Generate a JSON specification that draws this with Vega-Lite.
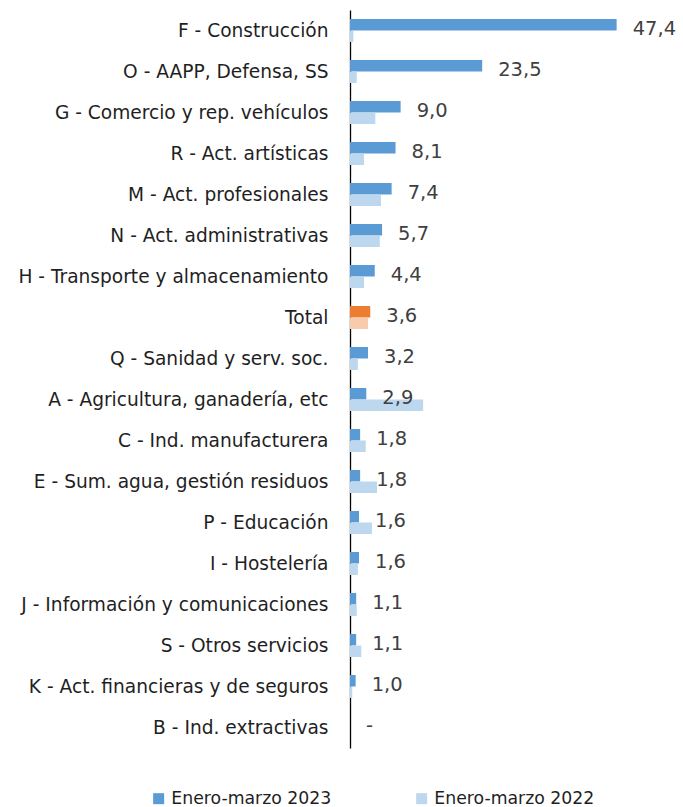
{
  "$schema": "https://vega.github.io/schema/vega-lite/v6.json",
  "width": 333,
  "height": 738,
  "autosize": {"type": "none"},
  "padding": {"left": 350, "top": 10, "right": 0, "bottom": 59},
  "config": {
    "view": {"stroke": null},
    "font": "DejaVu Sans",
    "locale": {"number": {"decimal": ",", "thousands": ".", "grouping": [3], "currency": ["", " €"]}}
  },
  "data": {
    "values": [
      {"sector": "F - Construcción", "serie": "Enero-marzo 2023", "valor": 47.4},
      {"sector": "F - Construcción", "serie": "Enero-marzo 2022", "valor": 0.6},
      {"sector": "O - AAPP, Defensa, SS", "serie": "Enero-marzo 2023", "valor": 23.5},
      {"sector": "O - AAPP, Defensa, SS", "serie": "Enero-marzo 2022", "valor": 1.2},
      {"sector": "G - Comercio y rep. vehículos", "serie": "Enero-marzo 2023", "valor": 9.0},
      {"sector": "G - Comercio y rep. vehículos", "serie": "Enero-marzo 2022", "valor": 4.5},
      {"sector": "R - Act. artísticas", "serie": "Enero-marzo 2023", "valor": 8.1},
      {"sector": "R - Act. artísticas", "serie": "Enero-marzo 2022", "valor": 2.5},
      {"sector": "M - Act. profesionales", "serie": "Enero-marzo 2023", "valor": 7.4},
      {"sector": "M - Act. profesionales", "serie": "Enero-marzo 2022", "valor": 5.5},
      {"sector": "N - Act. administrativas", "serie": "Enero-marzo 2023", "valor": 5.7},
      {"sector": "N - Act. administrativas", "serie": "Enero-marzo 2022", "valor": 5.3},
      {"sector": "H - Transporte y almacenamiento", "serie": "Enero-marzo 2023", "valor": 4.4},
      {"sector": "H - Transporte y almacenamiento", "serie": "Enero-marzo 2022", "valor": 2.5},
      {"sector": "Total", "serie": "Enero-marzo 2023", "valor": 3.6},
      {"sector": "Total", "serie": "Enero-marzo 2022", "valor": 3.2},
      {"sector": "Q - Sanidad y serv. soc.", "serie": "Enero-marzo 2023", "valor": 3.2},
      {"sector": "Q - Sanidad y serv. soc.", "serie": "Enero-marzo 2022", "valor": 1.4},
      {"sector": "A - Agricultura, ganadería, etc", "serie": "Enero-marzo 2023", "valor": 2.9},
      {"sector": "A - Agricultura, ganadería, etc", "serie": "Enero-marzo 2022", "valor": 13.0},
      {"sector": "C - Ind. manufacturera", "serie": "Enero-marzo 2023", "valor": 1.8},
      {"sector": "C - Ind. manufacturera", "serie": "Enero-marzo 2022", "valor": 2.8},
      {"sector": "E - Sum. agua, gestión residuos", "serie": "Enero-marzo 2023", "valor": 1.8},
      {"sector": "E - Sum. agua, gestión residuos", "serie": "Enero-marzo 2022", "valor": 4.8},
      {"sector": "P - Educación", "serie": "Enero-marzo 2023", "valor": 1.6},
      {"sector": "P - Educación", "serie": "Enero-marzo 2022", "valor": 3.9},
      {"sector": "I - Hostelería", "serie": "Enero-marzo 2023", "valor": 1.6},
      {"sector": "I - Hostelería", "serie": "Enero-marzo 2022", "valor": 1.4},
      {"sector": "J - Información y comunicaciones", "serie": "Enero-marzo 2023", "valor": 1.1},
      {"sector": "J - Información y comunicaciones", "serie": "Enero-marzo 2022", "valor": 1.2},
      {"sector": "S - Otros servicios", "serie": "Enero-marzo 2023", "valor": 1.1},
      {"sector": "S - Otros servicios", "serie": "Enero-marzo 2022", "valor": 2.0},
      {"sector": "K - Act. financieras y de seguros", "serie": "Enero-marzo 2023", "valor": 1.0},
      {"sector": "K - Act. financieras y de seguros", "serie": "Enero-marzo 2022", "valor": 0.4},
      {"sector": "B - Ind. extractivas", "serie": "Enero-marzo 2023", "valor": 0},
      {"sector": "B - Ind. extractivas", "serie": "Enero-marzo 2022", "valor": 0}
    ]
  },
  "encoding": {
    "y": {
      "field": "sector",
      "type": "nominal",
      "sort": null,
      "scale": {"paddingInner": 0.44, "paddingOuter": 0.22},
      "axis": {
        "title": null,
        "ticks": false,
        "labelPadding": 22,
        "labelFontSize": 18.6,
        "labelColor": "#1f1f1f",
        "labelLimit": 400,
        "domainColor": "#000000",
        "domainWidth": 1.3
      }
    }
  },
  "layer": [
    {
      "mark": {"type": "bar"},
      "encoding": {
        "x": {"field": "valor", "type": "quantitative", "scale": {"domain": [0, 59.2], "nice": false}, "axis": null},
        "yOffset": {"field": "serie", "sort": ["Enero-marzo 2023", "Enero-marzo 2022"], "scale": {"paddingInner": 0}},
        "color": {
          "condition": [
            {"test": "datum.sector === 'Total' && datum.serie === 'Enero-marzo 2023'", "value": "#ED7D31"},
            {"test": "datum.sector === 'Total' && datum.serie === 'Enero-marzo 2022'", "value": "#F8CBAD"}
          ],
          "field": "serie",
          "type": "nominal",
          "scale": {"domain": ["Enero-marzo 2023", "Enero-marzo 2022"], "range": ["#5B9BD5", "#BDD7EE"]},
          "legend": {
            "orient": "none",
            "legendX": -200,
            "legendY": 780,
            "direction": "horizontal",
            "title": null,
            "symbolType": "square",
            "symbolSize": 121,
            "symbolStrokeWidth": 0,
            "labelFontSize": 17.3,
            "labelLimit": 300,
            "labelColor": "#1f1f1f",
            "labelOffset": 4,
            "columnPadding": 81
          }
        }
      }
    },
    {
      "transform": [{"filter": "datum.serie === 'Enero-marzo 2023'"}],
      "mark": {"type": "text", "align": "left", "baseline": "middle", "dx": 16, "dy": -2, "fontSize": 19.5, "color": "#404040"},
      "encoding": {
        "x": {"field": "valor", "type": "quantitative"},
        "text": {
          "condition": {"test": "datum.valor == 0", "value": "-"},
          "field": "valor",
          "type": "quantitative",
          "format": ".1f"
        }
      }
    }
  ]
}
